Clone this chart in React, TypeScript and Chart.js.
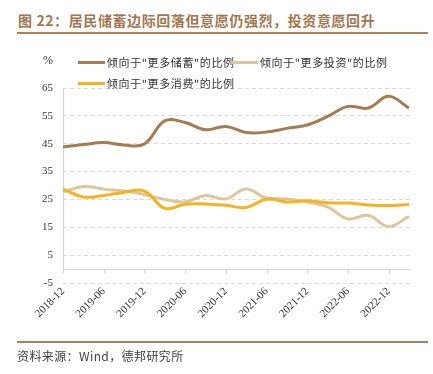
import React, { useEffect, useRef } from "react";
import { Chart, registerables } from "chart.js";

Chart.register(...registerables);

const quarterLabels = [
  "2018-12", "2019-03", "2019-06", "2019-09", "2019-12", "2020-03",
  "2020-06", "2020-09", "2020-12", "2021-03", "2021-06", "2021-09",
  "2021-12", "2022-03", "2022-06", "2022-09", "2022-12", "2023-03",
];
const savingsSeries = [43.8, 44.7, 45.4, 44.5, 44.9, 53.2, 52.6, 50.0, 51.2, 49.0, 49.2, 50.5, 51.7, 54.8, 58.4, 57.8, 62.0, 57.8];
const investSeries = [27.7, 29.6, 28.7, 28.0, 26.8, 25.0, 24.1, 26.4, 25.2, 28.7, 25.5, 25.2, 24.1, 22.3, 18.0, 19.3, 15.3, 18.9];
const consumeSeries = [28.7, 25.9, 26.4, 27.6, 28.0, 21.8, 23.3, 23.4, 22.9, 22.1, 25.1, 24.1, 24.5, 23.8, 23.7, 23.0, 22.8, 23.2];
const seriesNames = ['倾向于"更多储蓄"的比例', '倾向于"更多投资"的比例', '倾向于"更多消费"的比例'];
const seriesColors = ["#a67b51", "#dcc79d", "#f6b222"];
const yTicks = { min: -5, max: 65, step: 10 };

const CJK = '"Noto Sans CJK SC", "Noto Sans", sans-serif';
const SERIF = '"Liberation Serif", "DejaVu Serif", serif';

const axisPlugin = {
  id: "zeroAxis",
  beforeDatasetsDraw(chart: any) {
    const { ctx, chartArea, scales } = chart;
    const x = scales.x;
    const y = scales.y;
    const y0 = Math.round(y.getPixelForValue(0)) + 0.5;
    const left = Math.round(chartArea.left) + 0.5;
    ctx.save();
    ctx.strokeStyle = "#d6d6d6";
    ctx.lineWidth = 1.2;
    ctx.beginPath();
    ctx.moveTo(left, y0);
    ctx.lineTo(chartArea.right, y0);
    ctx.moveTo(left, y.getPixelForValue(yTicks.max));
    ctx.lineTo(left, y0);
    for (let i = 0; i < quarterLabels.length; i += 2) {
      const px = Math.round(x.getPixelForValue(i)) + 0.5;
      ctx.moveTo(px, y0);
      ctx.lineTo(px, y0 + 4);
    }
    ctx.stroke();
    ctx.restore();
  },
};

function ChartCanvas() {
  const ref = useRef<HTMLCanvasElement | null>(null);
  useEffect(() => {
    if (!ref.current) return;
    const all = [savingsSeries, investSeries, consumeSeries];
    const chart = new Chart(ref.current, {
      type: "line",
      data: {
        datasets: all.map((s, k) => ({
          label: seriesNames[k],
          data: s.map((v, i) => ({ x: i, y: v })),
          borderColor: seriesColors[k],
          backgroundColor: seriesColors[k],
          borderWidth: 3,
          pointRadius: 0,
          tension: 0.4,
          fill: false,
          order: 3 - k,
        })),
      },
      options: {
        animation: false,
        responsive: false,
        devicePixelRatio: 1,
        layout: { padding: { left: 0, top: 88, right: 22, bottom: 0 } },
        plugins: { legend: { display: false }, tooltip: { enabled: false } },
        scales: {
          x: {
            type: "linear",
            min: 0,
            max: 17.1,
            grid: { display: false, drawTicks: false },
            border: { display: false },
            ticks: {
              stepSize: 2,
              autoSkip: false,
              includeBounds: false,
              minRotation: 45,
              maxRotation: 45,
              padding: 2,
              color: "#333",
              font: { family: SERIF, size: 11 },
              callback: (v: any) => quarterLabels[v] ?? "",
            },
            afterFit: (s: any) => { s.height = 91; },
          },
          y: {
            min: yTicks.min,
            max: yTicks.max,
            grid: { color: "#d9d9d9", lineWidth: 1, drawTicks: false },
            border: { display: false, dash: [4, 3] },
            ticks: {
              stepSize: yTicks.step,
              padding: 10,
              color: "#333",
              font: { family: SERIF, size: 11 },
            },
            afterFit: (s: any) => { s.width = 63; },
          },
        },
      },
      plugins: [axisPlugin],
    });
    return () => chart.destroy();
  }, []);
  return <canvas ref={ref} width={433} height={374} style={{ position: "absolute", left: 0, top: 0, width: 433, height: 374 }} />;
}

function LegendItem({ x, y, k }: { x: number; y: number; k: number }) {
  return (
    <>
      <div style={{ position: "absolute", left: x, top: y - 1.5, width: 27, height: 3, background: seriesColors[k] }} />
      <div style={{ position: "absolute", left: x + 29, top: y - 8, fontFamily: CJK, fontSize: 11, lineHeight: "16px", letterSpacing: 0.6, color: "#333", whiteSpace: "nowrap" }}>
        {seriesNames[k]}
      </div>
    </>
  );
}

export default function App() {
  return (
    <div style={{ position: "fixed", left: 0, top: 0, width: 433, height: 374, background: "#fff", overflow: "hidden" }}>
      <div style={{ position: "absolute", left: 18, top: 9, fontFamily: CJK, fontWeight: 700, fontSize: 14, lineHeight: "22px", letterSpacing: 0.6, color: "#a27650", whiteSpace: "nowrap" }}>
        图 22：居民储蓄边际回落但意愿仍强烈，投资意愿回升
      </div>
      <div style={{ position: "absolute", left: 17, top: 32, width: 411, height: 2, background: "#a98059" }} />
      <ChartCanvas />
      <div style={{ position: "absolute", left: 43, top: 53, fontFamily: SERIF, fontSize: 12, lineHeight: "14px", color: "#333" }}>%</div>
      <LegendItem x={78} y={62} k={0} />
      <LegendItem x={231} y={62} k={1} />
      <LegendItem x={78} y={83} k={2} />
      <div style={{ position: "absolute", left: 17, top: 341, width: 411, height: 2, background: "#a98059" }} />
      <div style={{ position: "absolute", left: 17, top: 347, fontFamily: CJK, fontSize: 12, lineHeight: "18px", letterSpacing: 0.4, color: "#404040", whiteSpace: "nowrap" }}>
        资料来源：Wind，德邦研究所
      </div>
    </div>
  );
}
